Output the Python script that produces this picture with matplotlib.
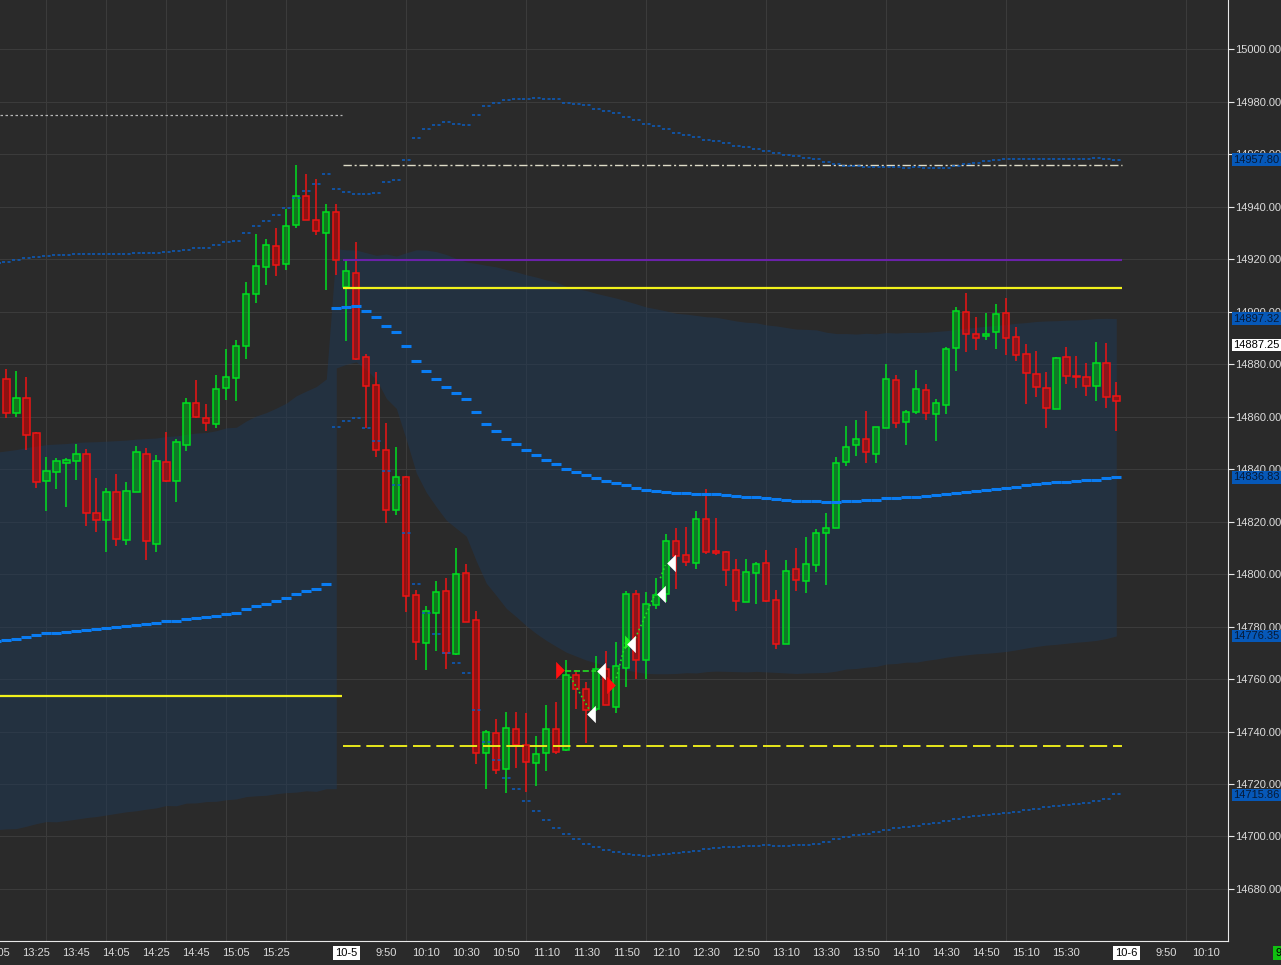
import matplotlib.pyplot as plt
import numpy as np
from matplotlib.path import Path
from matplotlib.ticker import FormatStrFormatter

plt.rcParams['font.family'] = ['Liberation Sans', 'DejaVu Sans']

# 5 minute bars, index 0 = 10-5 09:30, index -1 = 10-4 15:55
bar_idx = list(range(-34, 78))
bar_open = [
    14874.1, 14861.5, 14867.2, 14853.9, 14835.6, 14839.0, 14842.3, 14843.2, 14845.9, 14823.4,
    14820.4, 14831.4, 14813.1, 14831.4, 14845.9, 14811.6, 14842.5, 14835.6, 14849.3, 14865.0,
    14859.3, 14857.0, 14870.7, 14874.5, 14886.7, 14906.5, 14916.8, 14924.8, 14918.0, 14932.8,
    14943.9, 14934.7, 14929.8, 14937.8,
    14909.2, 14914.5, 14882.5, 14871.9, 14847.1, 14824.2, 14836.8, 14791.9, 14773.6, 14785.3,
    14793.4, 14769.7, 14800.3, 14782.4, 14731.7, 14739.3, 14725.6, 14740.8, 14734.7, 14727.9,
    14731.7, 14740.8, 14732.8, 14761.4, 14756.1, 14748.7, 14763.7, 14749.5, 14764.1, 14792.3,
    14767.1, 14788.1, 14792.3, 14812.4, 14807.1, 14804.1, 14820.8, 14808.6, 14808.2, 14801.4,
    14789.2, 14800.2, 14804.1, 14790.0, 14773.2, 14801.8, 14797.2, 14803.3, 14815.5, 14817.4,
    14842.5, 14849.0, 14851.3, 14845.6, 14855.5, 14873.8, 14857.8, 14861.6, 14870.1, 14860.8,
    14864.3, 14886.0, 14899.7, 14891.3, 14890.5, 14892.1, 14899.3, 14890.2, 14883.7, 14876.1,
    14870.7, 14862.7, 14882.5, 14875.3, 14874.9, 14871.5, 14880.3, 14867.7]
bar_high = [
    14878.0, 14877.3, 14875.0, 14854.2, 14844.5, 14844.1, 14844.1, 14849.5, 14847.6, 14836.5,
    14832.7, 14838.0, 14835.0, 14848.8, 14848.0, 14845.3, 14854.0, 14851.4, 14867.0, 14873.8,
    14864.8, 14875.8, 14885.7, 14889.1, 14911.2, 14929.5, 14927.6, 14931.8, 14939.0, 14955.8,
    14952.4, 14950.5, 14941.0, 14941.0,
    14920.0, 14926.5, 14883.8, 14876.9, 14857.5, 14848.4, 14837.2, 14793.8, 14787.8, 14797.3,
    14798.5, 14809.9, 14803.8, 14785.8, 14740.6, 14744.8, 14747.4, 14747.4, 14747.0, 14738.3,
    14750.1, 14751.2, 14767.2, 14763.4, 14758.7, 14768.8, 14770.5, 14774.0, 14793.4, 14793.9,
    14793.1, 14798.3, 14815.2, 14817.5, 14817.9, 14823.9, 14832.3, 14821.3, 14808.6, 14805.7,
    14805.7, 14804.6, 14809.1, 14793.9, 14805.3, 14809.9, 14814.1, 14817.1, 14823.2, 14844.6,
    14856.4, 14858.7, 14862.1, 14855.9, 14880.0, 14875.8, 14862.5, 14877.7, 14872.4, 14866.7,
    14886.3, 14901.7, 14907.0, 14897.9, 14899.4, 14902.9, 14905.3, 14894.1, 14887.6, 14885.0,
    14876.9, 14882.5, 14886.5, 14883.0, 14880.4, 14888.4, 14888.0, 14873.1]
bar_low = [
    14859.5, 14859.9, 14847.3, 14832.8, 14824.1, 14832.3, 14825.6, 14835.9, 14818.3, 14816.1,
    14808.4, 14810.5, 14811.2, 14831.4, 14805.3, 14808.4, 14835.1, 14827.6, 14846.9, 14859.5,
    14854.6, 14855.7, 14866.4, 14866.0, 14882.0, 14903.4, 14910.2, 14913.6, 14915.9, 14931.9,
    14934.7, 14929.1, 14908.3, 14914.0,
    14888.9, 14881.5, 14855.5, 14844.4, 14819.3, 14822.6, 14785.6, 14767.4, 14763.6, 14770.8,
    14764.0, 14769.3, 14781.8, 14727.7, 14718.1, 14723.9, 14716.7, 14726.2, 14717.1, 14719.4,
    14725.1, 14731.3, 14732.4, 14748.4, 14735.5, 14747.9, 14750.0, 14747.2, 14756.8, 14760.0,
    14760.1, 14786.8, 14789.2, 14794.4, 14802.9, 14801.8, 14807.5, 14807.2, 14795.6, 14786.0,
    14789.2, 14788.7, 14789.2, 14771.6, 14773.2, 14793.6, 14792.9, 14800.9, 14795.9, 14817.4,
    14841.3, 14845.1, 14842.4, 14842.4, 14855.5, 14855.7, 14849.3, 14860.8, 14858.7, 14850.7,
    14861.1, 14877.5, 14884.7, 14885.5, 14889.3, 14885.8, 14883.6, 14881.3, 14864.9, 14867.6,
    14855.7, 14862.7, 14872.5, 14871.0, 14867.9, 14866.0, 14863.4, 14854.6]
bar_close = [
    14861.5, 14866.9, 14853.1, 14834.9, 14839.4, 14842.9, 14843.6, 14845.9, 14823.4, 14820.4,
    14831.4, 14813.5, 14831.8, 14846.3, 14812.4, 14842.9, 14835.6, 14850.1, 14865.0, 14860.0,
    14857.5, 14870.3, 14874.9, 14886.7, 14906.5, 14917.2, 14925.2, 14917.6, 14932.4, 14943.9,
    14934.7, 14930.5, 14937.8, 14919.5,
    14915.3, 14881.8, 14871.5, 14847.1, 14824.2, 14836.8, 14791.5, 14774.0, 14785.8, 14793.0,
    14770.0, 14799.9, 14781.8, 14731.7, 14739.7, 14725.2, 14741.2, 14734.7, 14728.3, 14731.3,
    14740.8, 14732.1, 14761.4, 14756.1, 14748.1, 14763.9, 14750.0, 14764.8, 14792.3, 14767.1,
    14788.4, 14791.9, 14812.4, 14806.7, 14804.4, 14820.8, 14808.2, 14807.9, 14801.4, 14789.6,
    14800.6, 14803.7, 14789.6, 14773.2, 14801.0, 14797.6, 14803.7, 14815.5, 14817.4, 14842.1,
    14848.2, 14851.3, 14846.3, 14855.9, 14874.1, 14857.4, 14861.6, 14870.3, 14861.2, 14865.0,
    14885.6, 14900.1, 14891.3, 14889.8, 14891.3, 14898.9, 14889.8, 14883.3, 14876.4, 14871.1,
    14863.1, 14882.2, 14875.3, 14874.9, 14871.5, 14880.3, 14867.3, 14865.8]

# session VWAP and deviation bands, one value per bar
d1_idx = list(range(-35, -1))
d1_vwap = [
    14774.5, 14774.9, 14775.2, 14776.0, 14776.8, 14777.5, 14777.5, 14777.9, 14778.3, 14778.7,
    14779.0, 14779.4, 14779.8, 14780.2, 14780.6, 14781.0, 14781.3, 14782.1, 14782.1, 14782.9,
    14783.2, 14783.6, 14784.0, 14784.8, 14785.1, 14786.7, 14787.8, 14788.6, 14789.7, 14790.9,
    14792.4, 14793.5, 14794.3, 14796.2]
d1_up2 = [
    14918.3, 14918.9, 14919.6, 14920.3, 14920.6, 14921.1, 14921.4, 14921.5, 14921.8, 14921.8,
    14921.8, 14921.8, 14921.8, 14921.8, 14922.2, 14922.2, 14922.2, 14922.7, 14923.0, 14923.4,
    14924.1, 14924.2, 14925.2, 14926.5, 14926.7, 14929.8, 14932.5, 14934.4, 14936.6, 14939.3,
    14943.4, 14945.8, 14948.5, 14952.3]
d1_up1 = [
    14846.4, 14846.9, 14847.4, 14848.2, 14848.7, 14849.3, 14849.5, 14849.7, 14850.1, 14850.3,
    14850.4, 14850.6, 14850.8, 14851.0, 14851.4, 14851.6, 14851.8, 14852.4, 14852.6, 14853.2,
    14853.7, 14853.9, 14854.6, 14855.7, 14855.9, 14858.3, 14860.2, 14861.5, 14863.2, 14865.1,
    14867.9, 14869.7, 14871.4, 14874.3]
d1_dn1 = [
    14702.6, 14702.9, 14703.0, 14703.9, 14704.9, 14705.7, 14705.6, 14706.1, 14706.6, 14707.2,
    14707.6, 14708.2, 14708.8, 14709.4, 14709.8, 14710.4, 14710.9, 14711.8, 14711.7, 14712.7,
    14712.8, 14713.3, 14713.4, 14714.0, 14714.3, 14715.2, 14715.5, 14715.7, 14716.3, 14716.7,
    14716.9, 14717.4, 14717.2, 14718.2]

d2_idx = list(range(-1, 78))
d2_vwap = [
    14901.2, 14901.7, 14902.1, 14900.1, 14897.8, 14894.4, 14892.1, 14886.8, 14881.0, 14877.2,
    14874.2, 14871.1, 14868.8, 14866.6, 14861.6, 14857.0, 14854.4, 14851.4, 14849.4, 14847.1,
    14845.2, 14843.3, 14841.8, 14839.9, 14838.7, 14837.6, 14836.5, 14835.6, 14834.6, 14833.8,
    14832.8, 14831.9, 14831.5, 14831.1, 14830.7, 14830.7, 14830.4, 14830.4, 14830.4, 14830.0,
    14829.6, 14829.3, 14829.3, 14828.8, 14828.5, 14828.1, 14827.7, 14827.7, 14827.7, 14827.3,
    14827.3, 14827.7, 14827.7, 14828.1, 14828.1, 14828.8, 14828.8, 14829.2, 14829.2, 14829.6,
    14830.0, 14830.5, 14831.0, 14831.4, 14831.8, 14832.1, 14832.4, 14832.8, 14833.3, 14833.8,
    14834.3, 14834.6, 14834.9, 14835.2, 14835.4, 14835.7, 14836.0, 14836.4, 14836.8]
d2_up2 = [
    14946.6, 14945.4, 14944.6, 14944.6, 14945.0, 14949.2, 14950.0, 14957.7, 14966.2, 14969.6,
    14971.2, 14972.3, 14971.5, 14971.2, 14975.0, 14978.1, 14979.6, 14980.4, 14980.8, 14980.8,
    14981.2, 14980.8, 14980.8, 14979.6, 14978.9, 14978.5, 14977.3, 14976.5, 14975.8, 14974.2,
    14973.1, 14971.5, 14970.8, 14969.6, 14968.1, 14967.3, 14966.6, 14965.4, 14965.0, 14964.2,
    14963.1, 14962.7, 14961.9, 14961.2, 14960.4, 14959.6, 14959.2, 14958.5, 14958.1, 14957.0,
    14956.2, 14955.4, 14955.4, 14955.0, 14955.0, 14955.0, 14955.0, 14954.7, 14955.0, 14954.7,
    14954.7, 14954.7, 14955.4, 14956.2, 14956.6, 14957.3, 14957.7, 14958.1, 14958.1, 14958.1,
    14958.1, 14958.1, 14958.1, 14958.1, 14958.1, 14958.1, 14958.5, 14958.1, 14957.8]
d2_dn2 = [
    14855.9, 14858.2, 14859.3, 14855.5, 14850.7, 14839.2, 14833.9, 14815.5, 14796.1, 14785.0,
    14777.0, 14769.8, 14766.0, 14762.2, 14748.1, 14735.9, 14729.0, 14722.2, 14718.0, 14713.4,
    14709.6, 14706.2, 14703.1, 14700.8, 14698.9, 14697.0, 14695.9, 14694.7, 14694.0, 14693.2,
    14692.8, 14692.4, 14692.8, 14693.2, 14693.6, 14694.0, 14694.4, 14695.1, 14695.5, 14695.9,
    14695.9, 14696.3, 14696.3, 14696.7, 14696.3, 14696.3, 14696.7, 14696.7, 14697.0, 14697.8,
    14698.9, 14699.7, 14700.5, 14700.8, 14701.6, 14702.4, 14703.1, 14703.5, 14703.9, 14704.7,
    14705.0, 14705.8, 14706.6, 14707.3, 14707.7, 14708.1, 14708.5, 14708.8, 14709.2, 14710.0,
    14710.4, 14711.1, 14711.5, 14711.9, 14712.3, 14712.7, 14713.4, 14714.2, 14716.1]
d2_up1 = [
    14923.9, 14923.5, 14923.4, 14922.4, 14921.4, 14921.9, 14921.1, 14922.4, 14923.5, 14923.4,
    14922.8, 14921.7, 14920.2, 14918.9, 14918.3, 14917.6, 14917.0, 14916.0, 14915.1, 14914.0,
    14913.1, 14912.0, 14911.2, 14909.6, 14908.7, 14908.0, 14906.9, 14906.0, 14905.1, 14904.0,
    14902.9, 14901.7, 14901.0, 14900.2, 14899.3, 14899.0, 14898.5, 14898.0, 14897.8, 14897.1,
    14896.4, 14895.9, 14895.7, 14894.9, 14894.5, 14893.9, 14893.3, 14893.2, 14893.0, 14892.1,
    14891.6, 14891.6, 14891.4, 14891.7, 14891.5, 14892.0, 14891.8, 14892.0, 14892.0, 14892.1,
    14892.4, 14892.7, 14893.2, 14893.6, 14894.0, 14894.4, 14894.7, 14895.1, 14895.5, 14895.8,
    14896.2, 14896.4, 14896.5, 14896.7, 14896.8, 14897.0, 14897.3, 14897.4, 14897.3]
d2_dn1 = [
    14878.5, 14879.9, 14880.8, 14877.8, 14874.2, 14866.9, 14863.1, 14851.2, 14838.5, 14831.1,
    14825.6, 14820.5, 14817.4, 14814.4, 14804.9, 14796.5, 14791.8, 14786.9, 14783.7, 14780.3,
    14777.3, 14774.7, 14772.4, 14770.2, 14768.7, 14767.2, 14766.1, 14765.1, 14764.2, 14763.5,
    14762.7, 14762.1, 14762.0, 14762.0, 14762.1, 14762.4, 14762.3, 14762.8, 14763.0, 14762.9,
    14762.8, 14762.7, 14762.9, 14762.7, 14762.5, 14762.3, 14762.1, 14762.3, 14762.4, 14762.5,
    14763.0, 14763.8, 14764.0, 14764.5, 14764.8, 14765.7, 14765.9, 14766.4, 14766.4, 14767.1,
    14767.6, 14768.3, 14768.8, 14769.2, 14769.6, 14769.8, 14770.1, 14770.5, 14771.1, 14771.8,
    14772.4, 14772.9, 14773.2, 14773.6, 14774.0, 14774.3, 14774.7, 14775.4, 14776.4]

# horizontal levels
d1_prev_high = 14974.9
d1_yellow = 14753.5
d2_white = 14955.8
d2_purple = 14919.6
d2_yellow = 14909.0
d2_yellow_dash = 14734.5

# trade markers (bar index, price)
entry_idx = [21.4, 26.5]
entry_px = [14763.4, 14757.7]
exit_idx = [24.5, 25.5, 28.5, 31.5, 32.5]
exit_px = [14746.8, 14763.0, 14773.4, 14792.5, 14804.3]
fill_idx = [28.2]
fill_px = [14774.1]
link_x0 = [21.9, 22.4, 27.0, 28.9, 31.4]
link_y0 = [14763.2, 14760.9, 14760.3, 14775.5, 14798.4]
link_x1 = [25.0, 24.5, 28.0, 30.9, 31.9]
link_y1 = [14763.2, 14747.0, 14774.9, 14792.6, 14803.4]

# axis labels
xtick_pos = [-31, -27, -23, -19, -15, -11, -7, 0, 4, 8, 12, 16, 20, 24, 28, 32, 36, 40,
             44, 48, 52, 56, 60, 64, 68, 72, 78, 82, 86]
xtick_lab = ['13:25', '13:45', '14:05', '14:25', '14:45', '15:05', '15:25', '10-5', '9:50',
             '10:10', '10:30', '10:50', '11:10', '11:30', '11:50', '12:10', '12:30', '12:50',
             '13:10', '13:30', '13:50', '14:10', '14:30', '14:50', '15:10', '15:30', '10-6',
             '9:50', '10:10']
date_labels = ['10-5', '10-6']
blue_marks = [14957.80, 14897.32, 14836.83, 14776.35, 14715.86]
last_mark = 14887.25

BG = '#2a2a2a'
GREEN = '#00e020'
RED = '#ee1414'
THIN_BLUE = '#0b5ec2'
VWAP_BLUE = '#0a7cf2'

fig = plt.figure(figsize=(12.81, 9.65), dpi=100, facecolor=BG)
ax = fig.add_axes([0, 24 / 965, 1228 / 1281, 941 / 965])
ax.set_facecolor(BG)
ax.set_xlim(-34.63, 88.17)
ax.set_ylim(14660.19, 15018.67)

# grid
ax.set_yticks(np.arange(14680, 15001, 20))
ax.set_xticks(np.arange(-30, 88, 6), minor=True)
ax.grid(which='major', axis='y', color='#3b3b3b', lw=0.8, zorder=0)
ax.grid(which='minor', axis='x', color='#3b3b3b', lw=0.8, zorder=0)
ax.set_axisbelow(True)

# shaded 1-sigma band across both sessions
band_x = d1_idx + [d2_idx[0]] + d2_idx
band_up = d1_up1 + [d2_up1[0]] + d2_up1
band_dn = d1_dn1 + [d1_dn1[-1]] + d2_dn1
ax.fill_between(band_x, band_dn, band_up, color=(30 / 255, 56 / 255, 86 / 255), alpha=0.5,
                lw=0, zorder=1)

# candles
o = np.array(bar_open)
h = np.array(bar_high)
l = np.array(bar_low)
c = np.array(bar_close)
x = np.array(bar_idx)
up = c >= o
top = np.maximum(o, c)
bot = np.minimum(o, c)
edge = np.where(up, GREEN, RED)
face = [(0.0, 0.72, 0.08, 0.55) if u else (0.88, 0.0, 0.0, 0.55) for u in up]
ax.vlines(x, top, h, colors=edge, lw=1.1, zorder=3)
ax.vlines(x, l, bot, colors=edge, lw=1.1, zorder=3)
ax.bar(x, np.maximum(top - bot, 0.3), bottom=bot, width=0.64, color=face, edgecolor=edge,
       linewidth=1.1, zorder=4)

# price levels
ax.hlines(d1_prev_high, -34.63, -0.42, colors='#b8b8b8', lw=0.9, linestyles=(0, (2, 2)), zorder=5)
ax.hlines(d1_yellow, -34.63, -0.42, colors='#f2f21c', lw=1.6, zorder=5)
ax.hlines(d2_white, -0.33, 77.57, colors='#dedcc8', lw=1.0, linestyles=(0, (6, 2, 1.5, 2)),
          zorder=5)
ax.hlines(d2_purple, -0.33, 77.57, colors='#6a22a8', lw=1.5, zorder=5)
ax.hlines(d2_yellow, -0.33, 77.57, colors='#f2f21c', lw=1.6, zorder=5)
ax.hlines(d2_yellow_dash, -0.33, 77.57, colors='#e8e81c', lw=1.4, linestyles=(0, (9, 3)), zorder=5)

# vwap and 2-sigma bands, drawn per bar
for idx, vals, in ((d1_idx, d1_up2), (d2_idx, d2_up2), (d2_idx, d2_dn2)):
    xi = np.array(idx)
    ax.hlines(vals, xi - 0.45, xi + 0.45, colors=THIN_BLUE, lw=1.1, linestyles=(0, (2, 1.6)),
              zorder=6)
for idx, vals in ((d1_idx, d1_vwap), (d2_idx, d2_vwap)):
    xi = np.array(idx)
    ax.hlines(vals, xi - 0.5, xi + 0.5, colors=VWAP_BLUE, lw=2.2, zorder=6)

# trades
for x0, y0, x1, y1 in zip(link_x0, link_y0, link_x1, link_y1):
    ls = '--' if y0 == y1 else ':'
    ax.plot([x0, x1], [y0, y1], color='#22dd22', lw=1.2, ls=ls, zorder=7)
tri_r = Path([(-0.5, -1), (0.5, 0), (-0.5, 1), (-0.5, -1)],
             [Path.MOVETO, Path.LINETO, Path.LINETO, Path.CLOSEPOLY])
tri_l = Path([(0.5, -1), (-0.5, 0), (0.5, 1), (0.5, -1)],
             [Path.MOVETO, Path.LINETO, Path.LINETO, Path.CLOSEPOLY])
ax.plot(fill_idx, fill_px, ls='none', marker=tri_r, ms=10, color='#22ee22', mew=0, zorder=8)
ax.plot(entry_idx, entry_px, ls='none', marker=tri_r, ms=12.5, color='#ff1010', mew=0, zorder=9)
ax.plot(exit_idx, exit_px, ls='none', marker=tri_l, ms=12.5, color='white', mew=0, zorder=9)

# axes styling
for s in ('top', 'left'):
    ax.spines[s].set_visible(False)
ax.spines['right'].set_color('#e8e8e8')
ax.spines['bottom'].set_color('#e8e8e8')
ax.yaxis.tick_right()
ax.yaxis.set_major_formatter(FormatStrFormatter('%.2f'))
ax.tick_params(axis='y', which='major', colors='#e8e8e8', labelcolor='#dcdcdc', labelsize=8,
               length=4, width=0.8, pad=1)
ax.set_xticks(xtick_pos)
ax.set_xticklabels(xtick_lab)
ax.tick_params(axis='x', which='both', length=0, labelcolor='#dcdcdc', labelsize=8, pad=5)
for t in ax.get_xticklabels():
    if t.get_text() in date_labels:
        t.set_color('black')
        t.set_bbox(dict(boxstyle='square,pad=0.2', fc='white', ec='none'))
xtr = ax.get_xaxis_transform()
ax.text(-35, -0.0125, '13:05', transform=xtr, ha='center', va='center', fontsize=8,
        color='#dcdcdc', clip_on=False)

ytr = ax.get_yaxis_transform()
for v in blue_marks:
    ax.text(1.0045, v, f'{v:.2f}', transform=ytr, ha='left', va='center', fontsize=8,
            color='#071a36', clip_on=False, zorder=20,
            bbox=dict(boxstyle='square,pad=0.12', fc='#0658b8', ec='none'))
ax.text(1.0045, last_mark, f'{last_mark:.2f}', transform=ytr, ha='left', va='center',
        fontsize=8, color='black', clip_on=False, zorder=20,
        bbox=dict(boxstyle='square,pad=0.12', fc='white', ec='none'))

fig.text(0.9955, 0.0125, '9', ha='left', va='center', fontsize=8, color='black',
         bbox=dict(boxstyle='square,pad=0.2', fc='#10c010', ec='none'))

fig.savefig('out.png', dpi=100, facecolor=BG)
